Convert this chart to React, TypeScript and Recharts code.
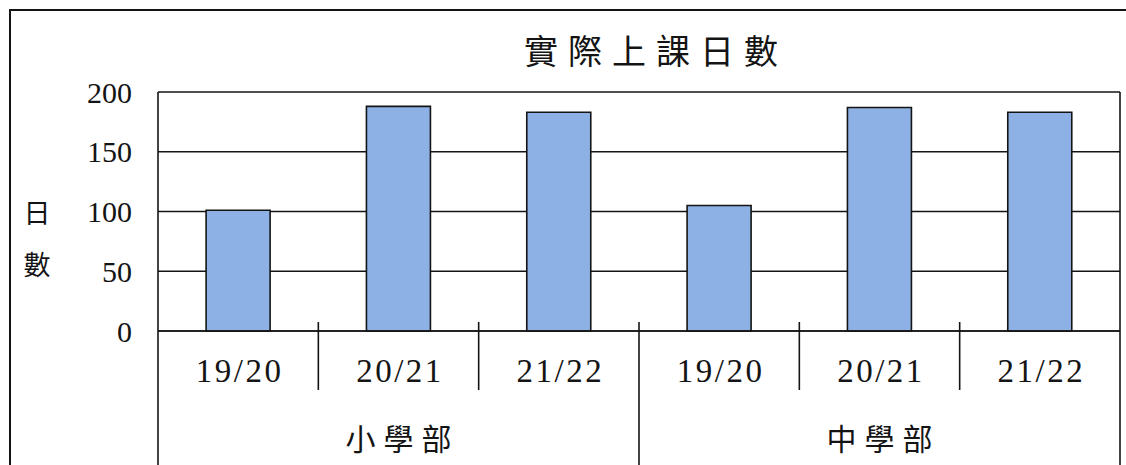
import React from 'react';
import { BarChart, Bar, XAxis, YAxis, CartesianGrid } from 'recharts';

const W = 1126;
const H = 465;
const MARGIN = { top: 92, right: 6, bottom: 0, left: 0 };
const Y_AXIS_W = 158;
const X_AXIS_H = 134;

const title = '實際上課日數';
const yLabel = ['日', '數'];
const groups = ['小學部', '中學部'];
const years = ['19/20', '20/21', '21/22'];
const primaryDays = [101, 188, 183];
const secondaryDays = [105, 187, 183];
const yTicks = [0, 50, 100, 150, 200];

const data = [
  ...primaryDays.map((v, i) => ({ key: `p${i}`, year: years[i], group: groups[0], days: v })),
  ...secondaryDays.map((v, i) => ({ key: `s${i}`, year: years[i], group: groups[1], days: v })),
];

const PLOT_W = W - MARGIN.left - MARGIN.right - Y_AXIS_W;
const BAND = PLOT_W / data.length;
const AXIS_Y = H - MARGIN.bottom - X_AXIS_H;
const PER_GROUP = years.length;

const SERIF = '"Liberation Serif", "DejaVu Serif", serif';
const CJK = '"Noto Sans CJK TC", "Noto Sans CJK SC", sans-serif';
const INK = '#141414';

const XTick = (props: any) => {
  const { x, index } = props;
  const d = data[index];
  if (!d) return null;
  const half = BAND / 2;
  const posInGroup = index % PER_GROUP;
  const isGroupEnd = posInGroup === PER_GROUP - 1;
  const isLast = index === data.length - 1;
  return (
    <g>
      <text
        x={x + 1.5}
        y={AXIS_Y + 40}
        textAnchor="middle"
        dominantBaseline="central"
        fontFamily={SERIF}
        fontSize={33}
        letterSpacing={2.5}
        fill={INK}
      >
        {d.year}
      </text>
      {posInGroup === 1 && (
        <text
          x={x + 4}
          y={AXIS_Y + 106}
          textAnchor="middle"
          dominantBaseline="central"
          fontFamily={CJK}
          fontSize={30}
          letterSpacing={8}
          fill={INK}
        >
          {d.group}
        </text>
      )}
      {index === 0 && (
        <line x1={x - half} x2={x - half} y1={AXIS_Y} y2={H} stroke={INK} strokeWidth={1.6} />
      )}
      {isLast ? (
        <line x1={x + half} x2={x + half} y1={MARGIN.top} y2={H} stroke={INK} strokeWidth={1.6} />
      ) : isGroupEnd ? (
        <line x1={x + half} x2={x + half} y1={AXIS_Y - 9} y2={H} stroke={INK} strokeWidth={1.6} />
      ) : (
        <line x1={x + half} x2={x + half} y1={AXIS_Y - 9} y2={AXIS_Y + 59} stroke={INK} strokeWidth={1.6} />
      )}
    </g>
  );
};

const YTick = (props: any) => {
  const { y, payload } = props;
  return (
    <text
      x={Y_AXIS_W - 26}
      y={y}
      textAnchor="end"
      dominantBaseline="central"
      fontFamily={SERIF}
      fontSize={30}
      fill={INK}
    >
      {payload.value}
    </text>
  );
};

export default function App() {
  return (
    <div style={{ position: 'absolute', left: 0, top: 0, width: W, height: H, background: '#fff', overflow: 'hidden' }}>
      <div
        style={{
          position: 'absolute',
          left: 9,
          top: 9,
          width: W,
          height: H,
          borderTop: `2px solid ${INK}`,
          borderLeft: `2px solid ${INK}`,
        }}
      />
      <div
        style={{
          position: 'absolute',
          left: 651 - 200 + 5,
          top: 29,
          width: 400,
          textAlign: 'center',
          fontFamily: CJK,
          fontSize: 34,
          letterSpacing: 10,
          lineHeight: '42px',
          color: INK,
        }}
      >
        {title}
      </div>
      {yLabel.map((c, i) => (
        <div
          key={c}
          style={{
            position: 'absolute',
            left: 21,
            top: 196 + i * 52,
            width: 32,
            textAlign: 'center',
            fontFamily: CJK,
            fontSize: 27,
            lineHeight: '32px',
            color: INK,
          }}
        >
          {c}
        </div>
      ))}
      <div style={{ position: 'absolute', left: 0, top: 0 }}>
        <BarChart width={W} height={H} data={data} margin={MARGIN} barCategoryGap="30%">
          <CartesianGrid vertical={false} stroke={INK} strokeWidth={1.6} />
          <XAxis
            dataKey="key"
            height={X_AXIS_H}
            axisLine={{ stroke: INK, strokeWidth: 1.6 }}
            tickLine={false}
            interval={0}
            tick={(p: any) => <XTick {...p} />}
          />
          <YAxis
            width={Y_AXIS_W}
            domain={[0, 200]}
            ticks={yTicks}
            axisLine={{ stroke: INK, strokeWidth: 1.6 }}
            tickLine={false}
            tick={(p: any) => <YTick {...p} />}
          />
          <Bar dataKey="days" fill="#8DB1E5" stroke={INK} strokeWidth={1.6} isAnimationActive={false} />
        </BarChart>
      </div>
    </div>
  );
}
